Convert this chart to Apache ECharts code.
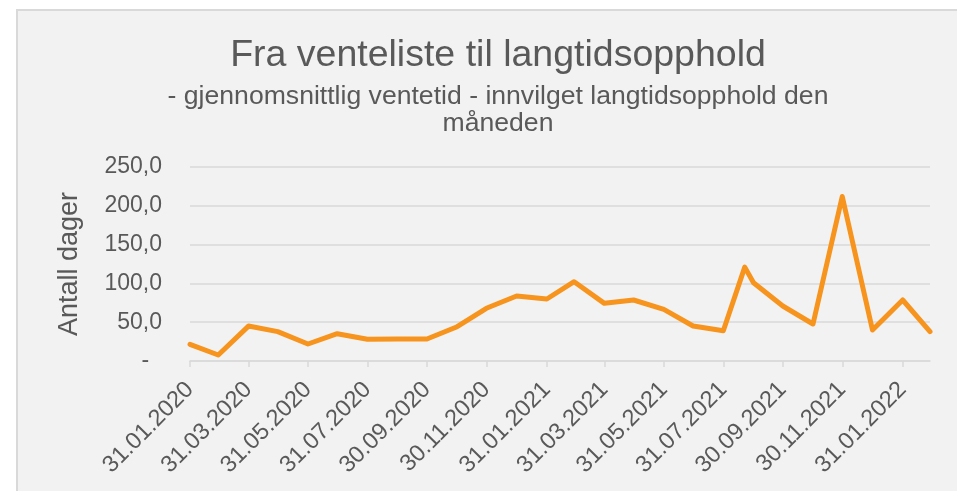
<!DOCTYPE html>
<html>
<head>
<meta charset="utf-8">
<script src="https://cdn.jsdelivr.net/npm/echarts@6/dist/echarts.min.js"></script>
<style>
  html, body { margin: 0; padding: 0; background: #fff; overflow: hidden; }
  #box { position: absolute; left: 16px; top: 9px; width: 960px; height: 500px;
         border: 2px solid #d9d9d9; background: #f2f2f2; overflow: hidden; }
  #main { width: 960px; height: 500px; }
</style>
</head>
<body>
<div id="box"><div id="main"></div></div>
<script>
// datoer og gjennomsnittlig ventetid i dager
var datoer = [
  '2020-01-31', '2020-02-29', '2020-03-31', '2020-04-30', '2020-05-31', '2020-06-30',
  '2020-07-31', '2020-08-31', '2020-09-30', '2020-10-31', '2020-11-30', '2020-12-31',
  '2021-01-31', '2021-02-28', '2021-03-31', '2021-04-30', '2021-05-31', '2021-06-30',
  '2021-07-31', '2021-08-22', '2021-08-31', '2021-09-30', '2021-10-31', '2021-11-30',
  '2021-12-31', '2022-01-31', '2022-02-28'
];
var ventetid = [
  21.5, 7.7, 45.0, 37.8, 21.9, 35.2,
  28.0, 28.3, 28.3, 44.2, 67.9, 83.8,
  79.9, 102.2, 74.3, 78.6, 66.6, 45.1,
  39.0, 121.0, 100.9, 70.9, 47.7, 212.0,
  40.0, 78.6, 37.8
];
var aksedatoer = [
  '2020-01-31', '2020-03-31', '2020-05-31', '2020-07-31', '2020-09-30', '2020-11-30',
  '2021-01-31', '2021-03-31', '2021-05-31', '2021-07-31', '2021-09-30', '2021-11-30',
  '2022-01-31'
];

function ts(s) {
  var p = s.split('-');
  return new Date(+p[0], +p[1] - 1, +p[2]).getTime();
}
function fmtDato(v) {
  var d = new Date(v);
  var dd = ('0' + d.getDate()).slice(-2);
  var mm = ('0' + (d.getMonth() + 1)).slice(-2);
  return dd + '.' + mm + '.' + d.getFullYear();
}

var punkter = [];
for (var i = 0; i < datoer.length; i++) {
  punkter.push([ts(datoer[i]), ventetid[i]]);
}
var tikker = aksedatoer.map(ts);

var tekst = '#595959';
var grid = '#d9d9d9';
var myChart = echarts.init(document.getElementById('main'));
var option = {
  animation: false,
  textStyle: { fontFamily: 'Liberation Sans, Arial, sans-serif' },
  title: {
    text: 'Fra venteliste til langtidsopphold',
    subtext: '- gjennomsnittlig ventetid - innvilget langtidsopphold den\nmåneden',
    left: 475,
    top: 21,
    textAlign: 'center',
    itemGap: 8,
    textStyle: { color: tekst, fontSize: 37.5, fontWeight: 'normal', fontFamily: 'Liberation Sans' },
    subtextStyle: { color: tekst, fontSize: 26.6, lineHeight: 27, fontFamily: 'Liberation Sans' }
  },
  grid: { left: 172, top: 156, width: 740, height: 194 },
  xAxis: {
    type: 'value',
    min: ts('2020-01-31'),
    max: ts('2022-02-28'),
    axisLine: { lineStyle: { color: grid, width: 1.5 } },
    axisTick: { show: true, customValues: tikker, length: 6, lineStyle: { color: grid, width: 1.5 } },
    splitLine: { show: false },
    axisLabel: {
      customValues: tikker,
      formatter: fmtDato,
      rotate: 45,
      margin: 25,
      hideOverlap: false,
      color: tekst,
      fontSize: 23.5,
      fontFamily: 'Liberation Sans'
    }
  },
  yAxis: {
    type: 'value',
    min: 0,
    max: 250,
    interval: 50,
    name: 'Antall dager',
    nameLocation: 'middle',
    nameGap: 107,
    nameTextStyle: { color: tekst, fontSize: 27, fontFamily: 'Liberation Sans' },
    axisLine: { show: false },
    axisTick: { show: false },
    splitLine: { lineStyle: { color: grid, width: 1.5 } },
    axisLabel: {
      margin: 28,
      color: tekst,
      fontSize: 23,
      fontFamily: 'Liberation Sans',
      formatter: function (v) {
        return v === 0 ? '-  ' : v.toFixed(1).replace('.', ',');
      }
    }
  },
  series: [{
    type: 'line',
    data: punkter,
    showSymbol: false,
    lineStyle: { color: '#f7941d', width: 5, join: 'round', cap: 'round' },
    itemStyle: { color: '#f7941d' }
  }]
};
myChart.setOption(option);
</script>
</body>
</html>
